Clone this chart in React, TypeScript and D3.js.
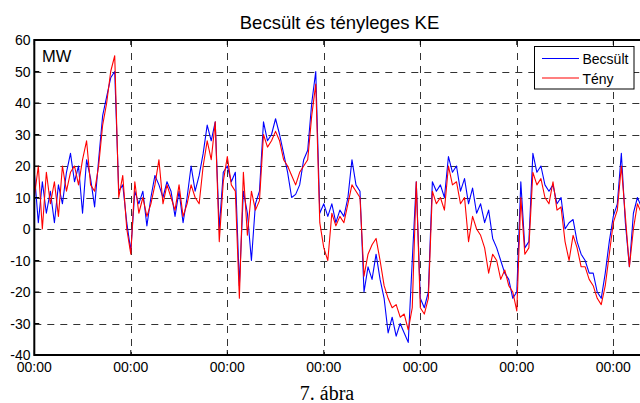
import React from 'react';
import * as d3 from 'd3';

// hourly values, MW
const becsult = [
  18, 2, 15, 5, 12, 2, 14, 8, 18, 24, 15, 20, 5, 22, 16, 7, 22, 36, 42, 48, 50, 12, 14, 2, -7,
  12, 8, 12, 1, 10, 17, 14, 10, 15, 12, 4, 12, 2, 10, 20, 12, 17, 24, 33, 28, 34, 0, 18, 20,
  15, 18, -18, 12, 5, -10, 8, 12, 34, 28, 30, 35, 30, 24, 18, 10, 11, 14, 22, 25, 40, 50, 5, 8,
  4, 8, 2, 6, 4, 10, 22, 14, 12, -20, -12, -16, -8, -16, -22, -33, -28, -34, -30, -33, -36, -10, 15, -22, -25,
  -20, 15, 12, 14, 10, 23, 18, 20, 12, 16, 8, 13, 5, 8, 2, 6, -3, -6, -10, -14, -16, -22, -20, 15,
  -6, -4, 24, 18, 20, 14, 12, 14, 8, 10, 0, 2, 3, -4, -8, -10, -14, -14, -20, -22, -14, -4, 4, 8, 24, 2, -12, 5, 10, 7,
];
const teny = [
  10, 20, 0, 18, 8, 15, 4, 20, 12, 18, 20, 14, 22, 28, 14, 12, 20, 33, 40, 50, 55, 10, 17, 0, -8,
  15, 5, 10, 4, 8, 14, 22, 8, 14, 10, 6, 14, 4, 8, 14, 10, 8, 20, 28, 22, 34, -4, 15, 23,
  14, 12, -22, 18, -2, 12, 6, 9, 30, 26, 28, 31, 28, 22, 20, 17, 14, 18, 20, 22, 36, 46, 2, -6,
  -10, 5, 1, 4, 2, 8, 14, 12, 10, -15, -8, -5, -3, -10, -18, -22, -25, -24, -28, -27, -32, -25, 15, -25, -27,
  -22, 12, 8, 10, 6, 20, 14, 15, 8, 10, -4, 4, 0, -2, -6, -14, -8, -10, -16, -13, -18, -20, -26, 10,
  -8, -6, 18, 14, 16, 10, 8, 15, 6, 7, -4, -10, -2, -6, -12, -12, -16, -18, -22, -24, -18, -8, 2, 6, 20, 4, -12, 0, 8, 5,
];
const yTicks = [-40, -30, -20, -10, 0, 10, 20, 30, 40, 50, 60];
const xTickHours = [0, 24, 48, 72, 96, 120, 144];
const xTickLabels = ['00:00', '00:00', '00:00', '00:00', '00:00', '00:00', '00:00'];
const seriesNames = ['Becsült', 'Tény'];
const seriesColors = ['#0000ff', '#ff0000'];

const W = 640;
const H = 403;
const left = 34.3;
const top = 40;
const bottom = 355;
const dayPx = 96.5;

export default function App() {
  const x = d3.scaleLinear().domain([0, 168]).range([left, left + dayPx * 7]);
  const y = d3.scaleLinear().domain([-40, 60]).range([bottom, top]);
  const line = d3.line<number>().x((_, i) => x(i)).y(d => y(d));
  const right = x(168);

  return (
    <svg width={W} height={H} style={{ position: 'absolute', left: 0, top: 0, background: '#fff' }}
      fontFamily="'Liberation Sans', Arial, sans-serif">
      <defs>
        <clipPath id="plot">
          <rect x={left} y={top} width={W - left} height={bottom - top} />
        </clipPath>
      </defs>
      <rect width={W} height={H} fill="#fff" />
      {/* grid */}
      <g stroke="#333" strokeWidth={1} strokeDasharray="7,6">
        {yTicks.slice(1, -1).map(t => (
          <line key={'h' + t} x1={left} x2={W} y1={Math.round(y(t)) + 0.5} y2={Math.round(y(t)) + 0.5} />
        ))}
        {xTickHours.slice(1).map(h => (
          <line key={'v' + h} x1={Math.round(x(h)) + 0.5} x2={Math.round(x(h)) + 0.5} y1={top} y2={bottom} />
        ))}
      </g>
      {/* series */}
      <g clipPath="url(#plot)" fill="none" strokeWidth={1.1} strokeLinejoin="round">
        <path d={line(becsult) || ''} stroke={seriesColors[0]} />
        <path d={line(teny) || ''} stroke={seriesColors[1]} />
      </g>
      {/* axes box */}
      <g stroke="#000" strokeWidth={2} fill="none">
        <line x1={left} x2={right} y1={top} y2={top} />
        <line x1={left} x2={right} y1={bottom} y2={bottom} />
        <line x1={left} x2={left} y1={top - 1} y2={bottom + 1} />
      </g>
      <g stroke="#000" strokeWidth={1}>
        {yTicks.map(t => (
          <line key={'yt' + t} x1={left} x2={left + 5} y1={y(t)} y2={y(t)} />
        ))}
        {xTickHours.map(h => (
          <g key={'xt' + h}>
            <line x1={x(h)} x2={x(h)} y1={bottom} y2={bottom - 5} />
            <line x1={x(h)} x2={x(h)} y1={top} y2={top + 5} />
          </g>
        ))}
      </g>
      {/* tick labels */}
      <g fontSize={14} fill="#000">
        {yTicks.map(t => (
          <text key={'yl' + t} x={30.5} y={y(t) + 5} textAnchor="end">{t}</text>
        ))}
        {xTickHours.map((h, i) => (
          <text key={'xl' + h} x={x(h)} y={372} textAnchor="middle">{xTickLabels[i]}</text>
        ))}
      </g>
      <text x={42} y={61.5} fontSize={16.5} fill="#000">MW</text>
      <text x={339.5} y={29} fontSize={18.5} textAnchor="middle" fill="#000">Becsült és tényleges KE</text>
      {/* legend */}
      <g>
        <rect x={534.5} y={46.5} width={99.5} height={42.5} fill="#fff" stroke="#000" strokeWidth={1} />
        {seriesNames.map((n, i) => (
          <g key={n}>
            <line x1={542} x2={579} y1={58.5 + i * 19.5} y2={58.5 + i * 19.5} stroke={seriesColors[i]} strokeWidth={1.2} />
            <text x={582.5} y={64 + i * 19.5} fontSize={14} fill="#000">{n}</text>
          </g>
        ))}
      </g>
      <text x={327} y={400} fontSize={20} textAnchor="middle" fontFamily="'Liberation Serif', 'Times New Roman', serif" fill="#000">7. ábra</text>
    </svg>
  );
}
